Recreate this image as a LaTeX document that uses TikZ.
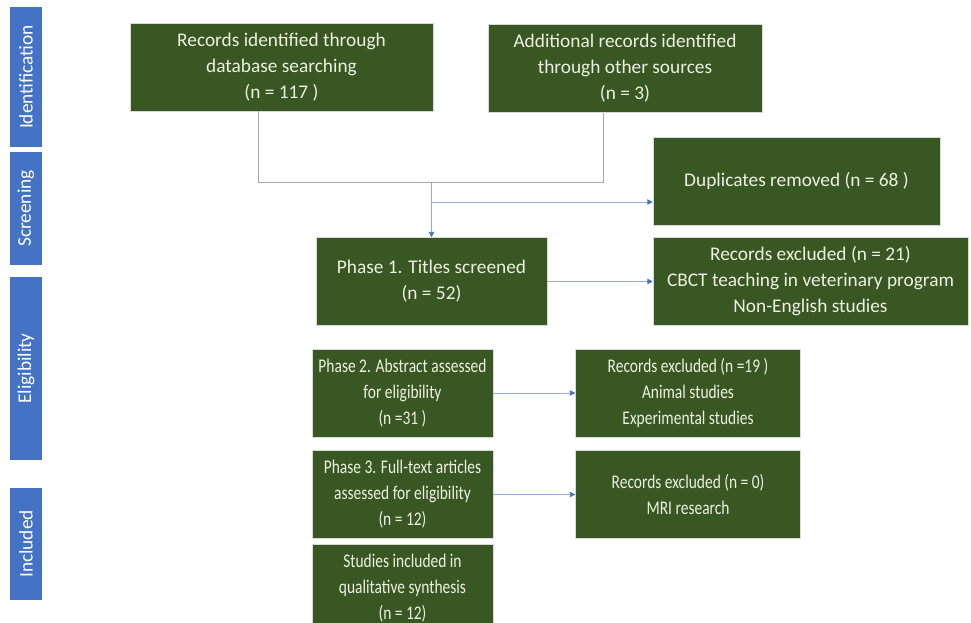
\documentclass[tikz,border=0pt]{standalone}
\usepackage{fontspec}
\setmainfont{Carlito}
\newfontfamily\narrowfont[FakeStretch=0.8]{Carlito}
\usetikzlibrary{positioning,arrows.meta}

\definecolor{boxcolor}{RGB}{56,87,35}
\definecolor{sidecolor}{RGB}{68,114,196}
\definecolor{textcolor}{RGB}{238,240,226}
\definecolor{linecolor}{RGB}{165,165,165}
\definecolor{arrowcolor}{RGB}{150,172,215}

\begin{document}
\begin{tikzpicture}[x=0.75pt, y=-0.75pt,
  box/.style = {draw=black!15, line width=0.4pt, fill=boxcolor, text=textcolor, align=center, inner sep=2pt, minimum height=66pt, font=\fontsize{14.5}{19.5}\selectfont},
  narrow/.style = {box, font=\narrowfont\fontsize{14.5}{19.5}\selectfont},
  side/.style = {fill=sidecolor, text=white, rotate=90, minimum height=24pt, font=\fontsize{14.5}{16}\selectfont},
  link/.style = {linecolor, line width=0.6pt},
  flow/.style = {arrowcolor, line width=0.6pt, -{Triangle[length=4pt,width=4pt,color=sidecolor]}}]
  \useasboundingbox (0,0) rectangle (971,623);

  % stage labels
  \node[side, minimum width=105pt] (Ident) at (26,77) {Identification};
  \node[side, minimum width=84.75pt] (Screen) at (26,208.5) {Screening};
  \node[side, minimum width=137.25pt] (Elig) at (26,368.5) {Eligibility};
  \node[side, minimum width=84pt] (Incl) at (26,544) {Included};

  % records
  \node[box, minimum width=227.25pt] (Database) at (281.5,67) {Records identified through\\database searching\\(n = 117 )};
  \node[box, minimum width=205.5pt] (Other) at (625,68.5) {Additional records identified\\through other sources\\(n = 3)};
  \node[box, minimum width=215.25pt] (Duplicates) at (796.5,181) {Duplicates removed (n = 68 )};

  % phases
  \node[box, minimum width=173.25pt] (PhaseOne) at (431.5,281.5) {Phase 1. Titles screened\\(n = 52)};
  \node[box, minimum width=236.25pt] (ExclOne) at (810.5,281.5) {Records excluded (n = 21)\\CBCT teaching in veterinary program\\Non-English studies};
  \node[narrow, minimum width=135.75pt] (PhaseTwo) at (402.5,393) {Phase 2. Abstract assessed\\for eligibility\\(n =31 )};
  \node[narrow, minimum width=168.75pt] (ExclTwo) [right=61.5pt of PhaseTwo] {Records excluded (n =19 )\\Animal studies\\Experimental studies};
  \node[narrow, minimum width=135.75pt] (PhaseThree) [below=9.75pt of PhaseTwo] {Phase 3. Full-text articles\\assessed for eligibility\\(n = 12)};
  \node[narrow, minimum width=168.75pt] (ExclThree) [right=61.5pt of PhaseThree] {Records excluded (n = 0)\\MRI research};
  \node[narrow, minimum width=135.75pt] (Studies) [below=3.75pt of PhaseThree] {Studies included in\\qualitative synthesis\\(n = 12)};

  % connectors
  \coordinate (JoinL) at (258,182);
  \coordinate (JoinR) at (603,182);
  \coordinate (Split) at (433,202);
  \draw[link] (Database.south -| JoinL) -- (JoinL) -- (JoinR) -- (Other.south -| JoinR);
  \draw[flow] (PhaseOne.north |- JoinL) -- (PhaseOne.north);
  \draw[flow] (PhaseOne.north |- Split) -- (Split -| Duplicates.west);
  \draw[flow] (PhaseOne) -- (ExclOne);
  \draw[flow] (PhaseTwo) -- (ExclTwo);
  \draw[flow] (PhaseThree) -- (ExclThree);
\end{tikzpicture}
\end{document}
